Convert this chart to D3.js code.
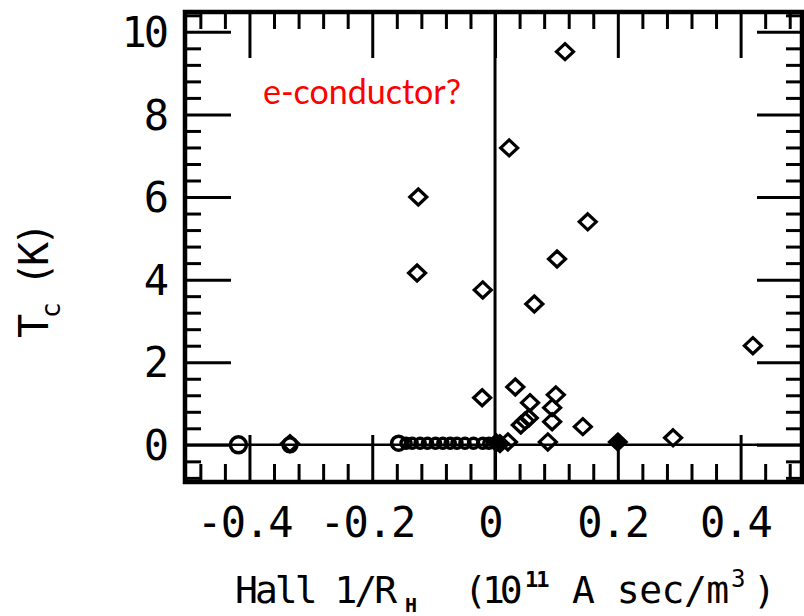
<!DOCTYPE html>
<html><head><meta charset="utf-8">
<script src="https://cdn.jsdelivr.net/npm/d3@7"></script>
<style>body{margin:0;background:#fff;} svg{display:block;}</style>
</head><body>
<svg id="c" width="804" height="616"></svg>
<script>
// ---- data ----
const xTicks = [-0.4, -0.2, 0, 0.2, 0.4];
const xTickLabels = ["-0.4", "-0.2", "0", "0.2", "0.4"];
const yTicks = [0, 2, 4, 6, 8, 10];
const yTickLabels = ["0", "2", "4", "6", "8", "10"];

// superconductors: open diamonds (Hall 1/R_H, Tc)
const scX = [0.114, 0.023, -0.125, 0.151, 0.101, -0.127, -0.020, 0.064, 0.420, -0.021,
             0.033, 0.057, 0.099, 0.093, 0.093, 0.143, 0.086, 0.290, 0.021, -0.334,
             0.042, 0.049, 0.055];
const scY = [9.52, 7.19, 6.00, 5.40, 4.50, 4.16, 3.75, 3.41, 2.40, 1.14,
             1.40, 1.02, 1.21, 0.90, 0.56, 0.44, 0.07, 0.17, 0.07, 0.03,
             0.48, 0.58, 0.65];
// filled diamonds
const fillX = [0.200, 0.002, 0.008];
const fillY = [0.07, 0.05, 0.03];
// non-superconducting (Tc = 0): open circles
const nsX = [-0.418, -0.334, -0.157, -0.145, -0.135, -0.122, -0.110, -0.097, -0.085,
             -0.073, -0.062, -0.049, -0.035, -0.020, -0.010];
const nsY = [0, 0, 0.04, 0.04, 0.04, 0.04, 0.04, 0.04, 0.04, 0.04, 0.04, 0.04, 0.04, 0.04, 0.04];
const nsR = [8, 7, 7, 5, 5, 5, 5, 5, 5, 5, 5, 5, 5, 5, 5];

const xMinor = d3.range(-12, 13).filter(i => i % 5 !== 0).map(i => i * 0.04);
const yMinor = d3.range(-2, 27).filter(i => i % 5 !== 0).map(i => i * 0.4);

// ---- scales ----
const x = d3.scaleLinear().domain([-0.505, 0.5]).range([185, 802]);
const y = d3.scaleLinear().domain([-0.9, 10.48]).range([482, 12]);

const svg = d3.select("#c");
const [x0, x1] = x.range();
const [y0, y1] = y.range();

// zero lines
svg.append("line").attr("x1", x0).attr("x2", x1).attr("y1", y(0)).attr("y2", y(0))
  .attr("stroke", "#000").attr("stroke-width", 2.5);
svg.append("line").attr("x1", x(0)).attr("x2", x(0)).attr("y1", y1).attr("y2", y0)
  .attr("stroke", "#000").attr("stroke-width", 3);

// ticks
function ticks(axis, tx, ty) {
  const g = svg.append("g").attr("transform", `translate(${tx},${ty})`).call(axis);
  g.select(".domain").remove();
  g.selectAll(".tick line").attr("stroke", "#000").attr("stroke-width", 3);
  g.selectAll(".tick text").remove();
}
ticks(d3.axisTop(x).tickValues(xTicks).tickSize(47), 0, y0);
ticks(d3.axisTop(x).tickValues(xMinor).tickSize(18), 0, y0);
ticks(d3.axisBottom(x).tickValues(xTicks).tickSize(46), 0, y1);
ticks(d3.axisBottom(x).tickValues(xMinor).tickSize(17), 0, y1);
ticks(d3.axisRight(y).tickValues(yTicks).tickSize(46), x0, 0);
ticks(d3.axisRight(y).tickValues(yMinor).tickSize(16), x0, 0);
ticks(d3.axisLeft(y).tickValues(yTicks).tickSize(45), x1, 0);
ticks(d3.axisLeft(y).tickValues(yMinor).tickSize(16), x1, 0);

// frame
svg.append("rect").attr("x", x0).attr("y", y1).attr("width", x1 - x0).attr("height", y0 - y1)
  .attr("fill", "none").attr("stroke", "#000").attr("stroke-width", 4.5);

// markers
const diamond = (w, h) => `M0,${-h}L${w},0L0,${h}L${-w},0Z`;
svg.append("g").selectAll("circle").data(nsX).join("circle")
  .attr("cx", d => x(d)).attr("cy", (d, i) => y(nsY[i])).attr("r", (d, i) => nsR[i])
  .attr("fill", "none").attr("stroke", "#000").attr("stroke-width", 3.5);
svg.append("g").selectAll("path").data(scX).join("path")
  .attr("transform", (d, i) => `translate(${x(d)},${y(scY[i])})`)
  .attr("d", diamond(8.5, 8)).attr("fill", "none").attr("stroke", "#000").attr("stroke-width", 3.2);
svg.append("g").selectAll("path").data(fillX).join("path")
  .attr("transform", (d, i) => `translate(${x(d)},${y(fillY[i])})`)
  .attr("d", diamond(8.5, 8)).attr("fill", "#000").attr("stroke", "#000").attr("stroke-width", 3);

// tick labels
const lblFont = "'DejaVu Sans Mono', monospace";
svg.append("g").selectAll("text").data(xTicks).join("text")
  .attr("x", d => x(d) - 5).attr("y", 537).attr("text-anchor", "middle")
  .attr("font-family", lblFont).attr("font-size", 42).attr("letter-spacing", -1.5)
  .text((d, i) => xTickLabels[i]);
svg.append("g").selectAll("text").data(yTicks).join("text")
  .attr("x", 166).attr("y", d => y(d)).attr("dy", "0.36em").attr("text-anchor", "end")
  .attr("font-family", lblFont).attr("font-size", 42).attr("letter-spacing", -3)
  .text((d, i) => yTickLabels[i]);

// axis titles
const xt = svg.append("text").attr("y", 603).attr("font-family", lblFont)
  .attr("font-size", 38).attr("letter-spacing", -3);
xt.append("tspan").attr("x", 235).text("Hall 1/R");
xt.append("tspan").attr("x", 405).attr("dy", 9).attr("font-size", 20).attr("font-weight", "bold").text("H");
xt.append("tspan").attr("x", 464).attr("dy", -9).attr("letter-spacing", -5).text("(10");
xt.append("tspan").attr("x", 525).attr("dy", -16).attr("font-size", 22).attr("font-weight", "bold").attr("letter-spacing", -2).text("11");
xt.append("tspan").attr("x", 572).attr("dy", 16).attr("letter-spacing", -0.5).text("A sec/m");
xt.append("tspan").attr("x", 731).attr("dy", -16).attr("font-size", 24).text("3");
xt.append("tspan").attr("x", 753).attr("dy", 16).text(")");

const yt = svg.append("text").attr("transform", "translate(48,338) rotate(-90)")
  .attr("font-family", lblFont).attr("font-size", 40).attr("letter-spacing", -4);
yt.append("tspan").text("T");
yt.append("tspan").attr("dy", 12).attr("font-size", 26).text("c");
yt.append("tspan").attr("dy", -12).text(" (K)");

// annotation
svg.append("text").attr("x", 263).attr("y", 104).attr("fill", "#ff0000")
  .attr("font-family", "Lato, 'Open Sans', sans-serif").attr("font-size", 34)
  .text("e-conductor?");
</script>
</body></html>
